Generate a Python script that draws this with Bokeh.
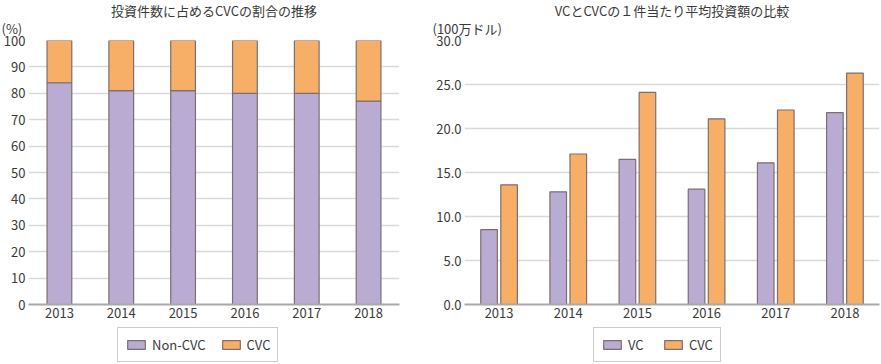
from bokeh.plotting import figure
from bokeh.layouts import row, column
from bokeh.models import (ColumnDataSource, Legend, LegendItem, Title,
                          FixedTicker, NumeralTickFormatter, FactorRange)
from bokeh.transform import dodge
from bokeh.embed import file_html
from bokeh.resources import INLINE

# ---------------- data ----------------
years = ["2013", "2014", "2015", "2016", "2017", "2018"]
non_cvc_share = [84, 81, 81, 80, 80, 77]
cvc_share = [16, 19, 19, 20, 20, 23]
vc_avg = [8.5, 12.8, 16.5, 13.1, 16.1, 21.8]
cvc_avg = [13.6, 17.1, 24.1, 21.1, 22.1, 26.3]

title_left = "投資件数に占めるCVCの割合の推移"
title_right = "VCとCVCの１件当たり平均投資額の比較"
unit_left = "(%)"
unit_right = "(100万ドル)"
legend_left = ["Non-CVC", "CVC"]
legend_right = ["VC", "CVC"]

FONT = "Noto Sans CJK JP"
TXT = "#3a3a3a"
PURPLE = "#BAABD3"
ORANGE = "#F7AE66"
EDGE = "#7d6e70"
GRID = "#d9d9d9"
AXIS = "#a8a8a8"


def style(p, ticks, fmt):
    p.background_fill_color = None
    p.border_fill_color = None
    p.outline_line_color = None
    p.xgrid.grid_line_color = None
    p.ygrid.grid_line_color = GRID
    p.ygrid.grid_line_width = 1.5
    p.yaxis.ticker = FixedTicker(ticks=ticks)
    p.yaxis.formatter = NumeralTickFormatter(format=fmt)
    for ax in (p.xaxis[0], p.yaxis[0]):
        ax.major_tick_line_color = None
        ax.minor_tick_line_color = None
        ax.major_tick_out = 0
        ax.major_tick_in = 0
        ax.minor_tick_out = 0
        ax.minor_tick_in = 0
        ax.major_label_text_font = FONT
        ax.major_label_text_font_size = "13px"
        ax.major_label_text_color = TXT
    p.yaxis.axis_line_color = None
    p.xaxis.axis_line_color = AXIS
    p.xaxis.axis_line_width = 2
    p.xaxis.major_label_standoff = 3
    p.yaxis.major_label_standoff = 3


def add_titles(p, unit, title, unit_off, title_off):
    p.add_layout(Title(text=unit, align="left", offset=unit_off, standoff=5.5,
                       text_font=FONT, text_font_size="13px",
                       text_font_style="normal", text_color=TXT), "above")
    p.add_layout(Title(text=title, align="center", offset=title_off, standoff=-13.5,
                       text_font=FONT, text_font_size="13px",
                       text_font_style="normal", text_color=TXT), "above")


def legend_fig(width, src, cols, labels, x):
    # legend strip: the series are drawn far outside the visible y-range, used as keys
    f = figure(width=width, height=37, output_backend="svg", toolbar_location=None,
               x_axis_location=None, y_axis_location=None, min_border=0,
               x_range=FactorRange(*years), y_range=(500, 501))
    f.outline_line_color = None
    f.background_fill_color = None
    f.border_fill_color = None
    f.grid.grid_line_color = None
    r1 = f.vbar(x="year", top=cols[0], width=0.1, source=src, fill_color=PURPLE,
                line_color=EDGE, line_width=1.2)
    r2 = f.vbar(x="year", top=cols[1], width=0.1, source=src, fill_color=ORANGE,
                line_color=EDGE, line_width=1.2)
    leg = Legend(items=[LegendItem(label=labels[0], renderers=[r1]),
                        LegendItem(label=labels[1], renderers=[r2])],
                 orientation="horizontal", location=(x, 1),
                 label_text_font=FONT, label_text_font_size="13px",
                 label_text_color=TXT, glyph_width=22, glyph_height=11,
                 label_height=12, label_standoff=5, spacing=14, padding=7,
                 margin=0, border_line_color="#9a9a9a", border_line_width=1.5,
                 background_fill_alpha=1)
    f.add_layout(leg, "center")
    return f


# ---------------- left chart ----------------
src_l = ColumnDataSource(dict(year=years, non_cvc=non_cvc_share, cvc=cvc_share))
p1 = figure(x_range=FactorRange(*years), y_range=(0, 100), width=432, height=326,
            output_backend="svg", toolbar_location=None,
            min_border_left=28, min_border_right=33, min_border_top=40,
            min_border_bottom=22)
rs = p1.vbar_stack(["non_cvc", "cvc"], x="year", width=0.4, source=src_l,
                   color=[PURPLE, ORANGE], line_color=EDGE, line_width=1.2)
p1.x_range.range_padding = 0
style(p1, list(range(0, 101, 10)), "0")
add_titles(p1, unit_left, title_left, -27, -15)

# ---------------- right chart ----------------
src_r = ColumnDataSource(dict(year=years, vc=vc_avg, cvc=cvc_avg))
p2 = figure(x_range=FactorRange(*years), y_range=(0, 30), width=449, height=326,
            output_backend="svg", toolbar_location=None,
            min_border_left=32, min_border_right=2, min_border_top=40,
            min_border_bottom=22)
r_vc = p2.vbar(x=dodge("year", -0.145, range=p2.x_range), top="vc", width=0.24,
               source=src_r, fill_color=PURPLE, line_color=EDGE, line_width=1.2)
r_cvc = p2.vbar(x=dodge("year", 0.145, range=p2.x_range), top="cvc", width=0.24,
                source=src_r, fill_color=ORANGE, line_color=EDGE, line_width=1.2)
p2.x_range.range_padding = 0
style(p2, [0, 5, 10, 15, 20, 25, 30], "0.0")
add_titles(p2, unit_right, title_right, -32, -15)

l1 = legend_fig(432, src_l, ["non_cvc", "cvc"], legend_left, 89)
l2 = legend_fig(449, src_r, ["vc", "cvc"], legend_right, 129)

layout = row(column(p1, l1, spacing=0), column(p2, l2, spacing=0), spacing=0)
open("out.html", "w").write(file_html(layout, INLINE))
